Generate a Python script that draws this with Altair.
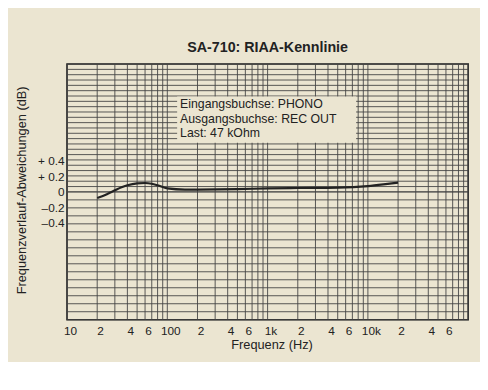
import altair as alt
import pandas as pd
import numpy as np

freq = [20, 25, 30, 35, 40, 50, 60, 70, 80, 100, 150, 200, 500, 1000, 2000, 5000, 10000, 15000, 20000]
db = [-0.08, -0.03, 0.02, 0.06, 0.085, 0.11, 0.115, 0.105, 0.085, 0.045, 0.03, 0.03, 0.035, 0.045, 0.05, 0.055, 0.075, 0.10, 0.12]

# Tick labels
x_tick_values = [10, 20, 40, 60, 100, 200, 400, 600, 1000, 2000, 4000, 6000, 10000, 20000, 40000, 60000]
x_tick_labels = ["10", "2", "4", "6", "100", "2", "4", "6", "1k", "2", "4", "6", "10k", "2", "4", "6"]
y_tick_values = [0.4, 0.2, 0, -0.2, -0.4]
y_tick_labels = ["+ 0.4", "+ 0.2", "0", "\u20130.2", "\u20130.4"]

# Grid lines
x_grid = [m * 10 ** d for d in range(1, 5) for m in range(1, 10)] + [100000]
y_grid = list(np.linspace(0, 1.65, 25)) + list(np.linspace(-1.65, 0, 17))

box_lines = ["Eingangsbuchse: PHONO", "Ausgangsbuchse: REC OUT", "Last: 47 kOhm"]

FONT = "Liberation Sans"
BG = "#ebe5d1"
INK = "#222222"
GRID = "#444444"


def expr_from(values, labels):
    e = "''"
    for v, l in reversed(list(zip(values, labels))):
        e = f"(abs(datum.value - ({v})) < 1e-6 ? '{l}' : {e})"
    return e


curve = pd.DataFrame({"f": freq, "db": db})
xg = pd.DataFrame({"f": x_grid})
yg = pd.DataFrame({"db": y_grid})

xscale = alt.Scale(type="log", domain=[10, 100000], nice=False)
yscale = alt.Scale(domain=[-1.65, 1.65], nice=False, zero=False)

xaxis = alt.Axis(
    title="Frequenz (Hz)",
    values=x_tick_values,
    labelExpr=expr_from(x_tick_values, x_tick_labels),
    grid=False, ticks=False, domain=False,
    labelFont=FONT, labelFontSize=12, labelColor=INK, labelPadding=6,
    labelOffset=3, labelFlush=False, labelOverlap=False,
    titleFont=FONT, titleFontSize=13, titleFontWeight="normal", titleColor=INK,
    titleX=208, titleY=25, titleBaseline="middle",
)
yaxis = alt.Axis(
    title="Frequenzverlauf-Abweichungen (dB)",
    values=y_tick_values,
    labelExpr=expr_from(y_tick_values, y_tick_labels),
    grid=False, ticks=False, domain=False,
    labelFont=FONT, labelFontSize=12, labelColor=INK, labelPadding=3,
    labelOverlap=False,
    titleFont=FONT, titleFontSize=13, titleFontWeight="normal", titleColor=INK,
    titleX=-46, titleY=128, titleAngle=270, titleAlign="center", titleBaseline="middle",
)

vrules = alt.Chart(xg).mark_rule(color=GRID, strokeWidth=0.9).encode(
    x=alt.X("f:Q", scale=xscale, axis=xaxis)
)
hrules = alt.Chart(yg).mark_rule(color=GRID, strokeWidth=0.9).encode(
    y=alt.Y("db:Q", scale=yscale, axis=yaxis)
)

box = alt.Chart(pd.DataFrame({"a": [0]})).mark_rect(color=BG).encode(
    x=alt.value(112), x2=alt.value(294), y=alt.value(33), y2=alt.value(80)
)

texts = [
    alt.Chart(pd.DataFrame({"t": [s]})).mark_text(
        align="left", baseline="middle", font=FONT, fontSize=12.5, color=INK
    ).encode(x=alt.value(115), y=alt.value(40.5 + 15 * i), text="t:N")
    for i, s in enumerate(box_lines)
]

line = alt.Chart(curve).mark_line(color=INK, strokeWidth=2.2, interpolate="monotone").encode(
    x=alt.X("f:Q", scale=xscale, axis=xaxis),
    y=alt.Y("db:Q", scale=yscale, axis=yaxis),
)

chart = alt.layer(vrules, hrules, box, *texts, line).properties(
    width=408,
    height=260,
    autosize="none",
    padding={"left": 60, "top": 54, "right": 12, "bottom": 40},
    background=BG,
    title=alt.TitleParams(
        "SA-710: RIAA-Kennlinie", font=FONT, fontSize=14.5, fontWeight="bold",
        color=INK, anchor="middle", offset=8,
    ),
).configure_view(stroke=INK, strokeWidth=1.6)

chart.save("out.html", embed_options={"renderer": "svg", "actions": False})
